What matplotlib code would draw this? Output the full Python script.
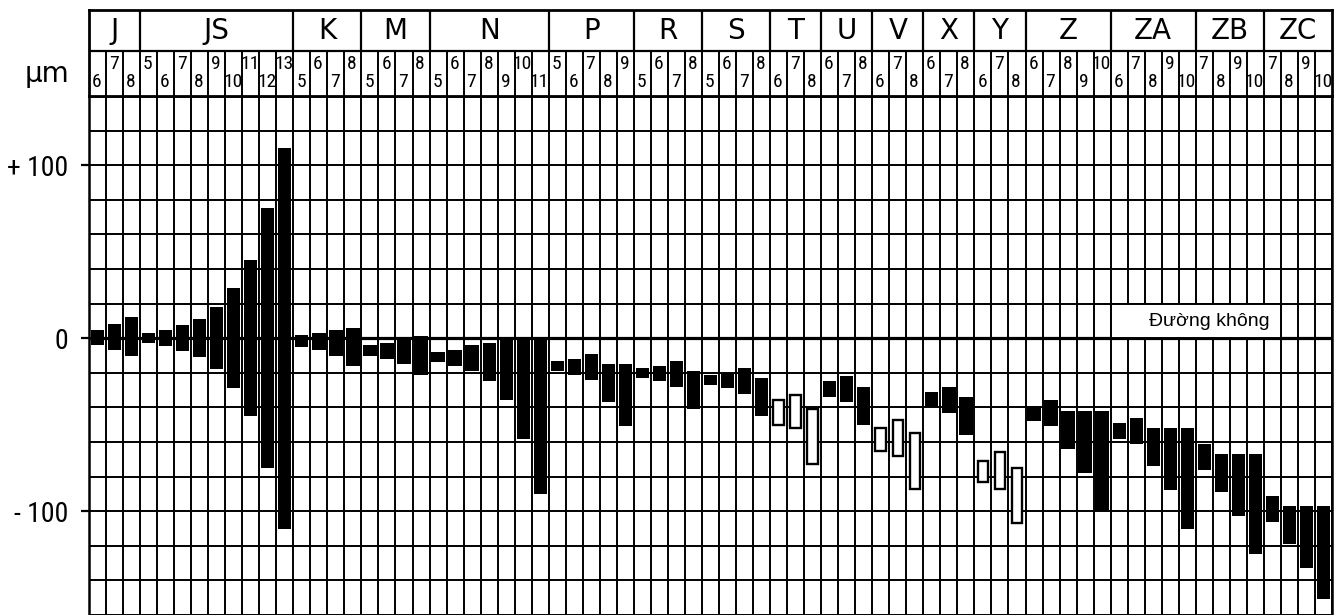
import numpy as np
import matplotlib.pyplot as plt
from matplotlib import font_manager
from matplotlib.patches import Rectangle

# hole tolerance classes (6-10 mm) and the grades shown for each
letters = ['J', 'JS', 'K', 'M', 'N', 'P', 'R', 'S', 'T', 'U', 'V', 'X', 'Y', 'Z', 'ZA', 'ZB', 'ZC']
grades = [
    [6, 7, 8],
    [5, 6, 7, 8, 9, 10, 11, 12, 13],
    [5, 6, 7, 8],
    [5, 6, 7, 8],
    [5, 6, 7, 8, 9, 10, 11],
    [5, 6, 7, 8, 9],
    [5, 6, 7, 8],
    [5, 6, 7, 8],
    [6, 7, 8],
    [6, 7, 8],
    [6, 7, 8],
    [6, 7, 8],
    [6, 7, 8],
    [6, 7, 8, 9, 10],
    [6, 7, 8, 9, 10],
    [7, 8, 9, 10],
    [7, 8, 9, 10],
]

# upper and lower deviations, µm
upper = [
    [5, 8, 12],
    [3, 4.5, 7.5, 11, 18, 29, 45, 75, 110],
    [2, 3, 5, 6],
    [-4, -3, 0, 1],
    [-8, -7, -4, -3, 0, 0, 0],
    [-13, -12, -9, -15, -15],
    [-17, -16, -13, -19],
    [-21, -20, -17, -23],
    [-36, -33, -41],
    [-25, -22, -28],
    [-52, -47, -55],
    [-31, -28, -34],
    [-71, -66, -75],
    [-39, -36, -42, -42, -42],
    [-49, -46, -52, -52, -52],
    [-61, -67, -67, -67],
    [-91, -97, -97, -97],
]
lower = [
    [-4, -7, -10],
    [-3, -4.5, -7.5, -11, -18, -29, -45, -75, -110],
    [-5, -7, -10, -16],
    [-10, -12, -15, -21],
    [-14, -16, -19, -25, -36, -58, -90],
    [-19, -21, -24, -37, -51],
    [-23, -25, -28, -41],
    [-27, -29, -32, -45],
    [-50, -52, -73],
    [-34, -37, -50],
    [-65, -68, -87],
    [-40, -43, -56],
    [-83, -87, -107],
    [-48, -51, -64, -78, -100],
    [-58, -61, -74, -88, -110],
    [-76, -89, -103, -125],
    [-106, -119, -133, -151],
]

# classes not standardised for this size range are drawn as open boxes
open_letters = ['T', 'V', 'Y']

# flatten everything into one column per grade
col_grade, col_up, col_lo, col_open = [], [], [], []
group_edges = [0]
for L, g, up, lo in zip(letters, grades, upper, lower):
    col_grade += g
    col_up += up
    col_lo += lo
    col_open += [L in open_letters] * len(g)
    group_edges.append(group_edges[-1] + len(g))
col_up = np.array(col_up, dtype=float)
col_lo = np.array(col_lo, dtype=float)
col_open = np.array(col_open)
n = len(col_grade)
x = np.arange(n) + 0.5

# a narrow face for the numbers if one is installed
available = {f.name for f in font_manager.fontManager.ttflist}
narrow = next((f for f in ['Liberation Sans Narrow', 'Roboto Condensed', 'Open Sans Condensed']
               if f in available), 'DejaVu Sans')

W, H = 1341, 615
fig = plt.figure(figsize=(W / 100, H / 100), dpi=100)
left, width = 89 / W, (1332 - 89) / W
ax = fig.add_axes([left, 0, width, 1 - 96 / H])
hax = fig.add_axes([left, 1 - 96 / H, width, 86 / H])

# ---- main grid ----
ax.set_xlim(0, n)
ax.set_ylim(-158, 140)
ax.set_xticks([])
ax.set_xticks(np.arange(n + 1), minor=True)
ax.set_yticks([-100, 0, 100])
ax.set_yticklabels(['- 100', '0', '+ 100'], fontsize=20, family=narrow, fontstretch='condensed')
ax.set_yticks(np.arange(-160, 141, 20), minor=True)
ax.grid(which='minor', color='black', lw=1.4)
ax.grid(which='major', axis='y', color='black', lw=1.4)
ax.tick_params(which='minor', length=0)
ax.tick_params(which='major', axis='y', length=6, width=1.6, pad=9)
for s in ['left', 'right', 'top']:
    ax.spines[s].set_linewidth(1.8)
ax.spines['bottom'].set_visible(False)
ax.axhline(0, color='black', lw=2.3, zorder=1.6)

# zero line label box
zx0 = group_edges[letters.index('ZA')]
zx1 = group_edges[letters.index('ZC')] + 1
ax.add_patch(Rectangle((zx0, 0), zx1 - zx0, 20, facecolor='white', edgecolor='black',
                       lw=1.4, zorder=2))
ax.text(zx0 + 0.58 * (zx1 - zx0), 9.5, 'Đường không', ha='center', va='center',
        fontsize=14, family='Liberation Sans', zorder=4)

# ---- tolerance zones ----
solid = ~col_open
ax.bar(x[solid], col_up[solid] - col_lo[solid], bottom=col_lo[solid], width=0.78,
       color='black', zorder=3)
ax.bar(x[col_open], col_up[col_open] - col_lo[col_open], bottom=col_lo[col_open], width=0.62,
       facecolor='white', edgecolor='black', lw=1.7, zorder=3)

# ---- header with classes and grades ----
hax.set_xlim(0, n)
hax.set_ylim(0, 1)
hax.set_xticks([])
hax.set_yticks([])
for s in hax.spines.values():
    s.set_linewidth(2)
hax.axhline(0.52, color='black', lw=1.6)
hax.vlines(group_edges[1:-1], 0.52, 1, color='black', lw=1.6)
hax.vlines(np.arange(1, n), 0, 0.52, color='black', lw=1.4)
for L, a, b in zip(letters, group_edges[:-1], group_edges[1:]):
    hax.text((a + b) / 2, 0.76, L, ha='center', va='center', fontsize=20)
for i, g in enumerate(col_grade):
    if i % 2 == 0:
        hax.text(i + 0.45, 0.06, str(g), ha='center', va='bottom', fontsize=14,
                 family=narrow, fontstretch='condensed')
    else:
        hax.text(i + 0.45, 0.48, str(g), ha='center', va='top', fontsize=14,
                 family=narrow, fontstretch='condensed')

fig.text(47 / W, 1 - 74 / H, 'µm', ha='center', va='center', fontsize=20)

fig.savefig('out.png', dpi=100)
